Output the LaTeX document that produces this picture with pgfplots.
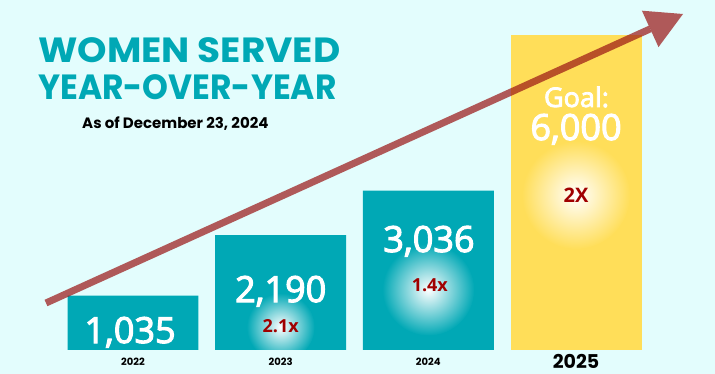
\documentclass[border=0pt]{standalone}
\usepackage{pgfplots}
\pgfplotsset{compat=1.18}
\usepackage{fontspec}
\setmainfont{Open Sans}
\newfontfamily\num{Open Sans}[FakeBold=3]
\newfontfamily\pop{Poppins}
\definecolor{bgc}{RGB}{227,253,253}
\definecolor{tealc}{RGB}{0,168,181}
\definecolor{goldc}{RGB}{255,222,89}
\definecolor{redc}{RGB}{160,0,0}
\definecolor{arrowc}{RGB}{154,20,20}
\begin{document}
\begin{tikzpicture}[x=1pt,y=1pt]
\useasboundingbox (0,0) rectangle (715,374);
\fill[bgc] (0,0) rectangle (715,374);
\begin{axis}[
  at={(0pt,0pt)}, anchor=south west,
  scale only axis, width=715pt, height=374pt,
  hide axis, clip=false,
  xmin=-0.9007, xmax=3.9412,
  ymin=-457.1, ymax=6666.7,
]
\addplot[ybar, bar width=0.887, bar shift=0pt, fill=tealc, draw=none] coordinates {(0,1035) (1,2190) (2,3036)};
\addplot[ybar, bar width=0.887, bar shift=0pt, fill=goldc, draw=none] coordinates {(3,6000)};
% glows
\begin{scope}
\clip (axis cs:0.5565,0) rectangle (axis cs:1.4435,2190);
\shade[inner color=white, outer color=tealc] (axis cs:1,438) circle (34pt);
\end{scope}
\begin{scope}
\clip (axis cs:1.5565,0) rectangle (axis cs:2.4435,3036);
\shade[inner color=white, outer color=tealc] (axis cs:2,1150) circle (46pt);
\end{scope}
\begin{scope}
\clip (axis cs:2.5565,0) rectangle (axis cs:3.4435,6000);
\shade[inner color=white, outer color=goldc] (axis cs:3,2952) circle (54pt);
\end{scope}
% value labels
\node[anchor=base, text=white, font=\num\fontsize{36}{36}\selectfont] at (axis cs:-0.02,133) {1,035};
\node[anchor=base, text=white, font=\num\fontsize{36}{36}\selectfont] at (axis cs:1,914) {2,190};
\node[anchor=base, text=white, font=\num\fontsize{36}{36}\selectfont] at (axis cs:2.004,1867) {3,036};
\node[anchor=base, text=white, font=\num\fontsize{27}{27}\selectfont] at (axis cs:3.003,4629) {Goal:};
\node[anchor=base, text=white, font=\num\fontsize{36}{36}\selectfont] at (axis cs:3,4000) {6,000};
\node[anchor=base, text=redc, font=\bfseries\fontsize{18}{18}\selectfont] at (axis cs:1,324) {2.1x};
\node[anchor=base, text=redc, font=\bfseries\fontsize{18}{18}\selectfont] at (axis cs:2.01,1105) {1.4x};
\node[anchor=base, text=redc, font=\bfseries\fontsize{20}{20}\selectfont] at (axis cs:3,2819) {2X};
% year labels
\node[anchor=base, font=\pop\bfseries\fontsize{10}{10}\selectfont] at (axis cs:0,-286) {2022};
\node[anchor=base, font=\pop\bfseries\fontsize{10}{10}\selectfont] at (axis cs:1,-286) {2023};
\node[anchor=base, font=\pop\bfseries\fontsize{10}{10}\selectfont] at (axis cs:2,-286) {2024};
\node[anchor=base, font=\pop\bfseries\fontsize{19}{19}\selectfont] at (axis cs:3,-343) {2025};
\end{axis}
% arrow
\draw[arrowc, opacity=0.7, line width=7pt] (46,71) -- (650.2,345.1);
\fill[arrowc, opacity=0.7] (683,360) -- (641.9,363.3) -- (658.5,326.9) -- cycle;
% titles
\node[anchor=base west, inner sep=0pt, xscale=1.07, text=tealc, font=\pop\bfseries\fontsize{35}{35}\selectfont] at (38,311) {WOMEN SERVED};
\node[anchor=base west, inner sep=0pt, xscale=0.94, text=tealc, font=\pop\bfseries\fontsize{35}{35}\selectfont] at (38,274) {YEAR-OVER-YEAR};
\node[anchor=base west, inner sep=0pt, font=\pop\bfseries\fontsize{15}{15}\selectfont] at (82,245) {As of December 23, 2024};
\end{tikzpicture}
\end{document}
